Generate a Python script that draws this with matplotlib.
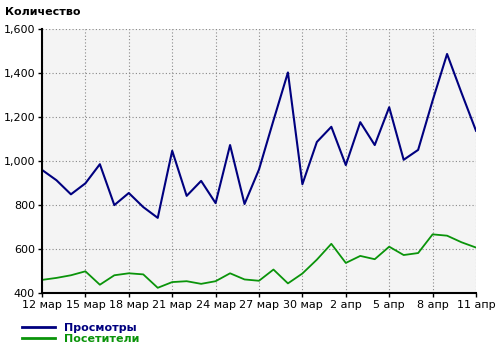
import numpy as np
import matplotlib.pyplot as plt
from matplotlib.ticker import FuncFormatter
from matplotlib.lines import Line2D

# dates: 12 мар .. 11 апр
days = [f"{d} мар" for d in range(12, 32)] + [f"{d} апр" for d in range(1, 12)]
views = [960, 913, 849, 899, 986, 800, 855, 791, 742, 1047,
         842, 910, 809, 1073, 805, 962, 1185, 1403, 895, 1087,
         1156, 982, 1177, 1073, 1245, 1006, 1051, 1275, 1487, 1310, 1138]
visitors = [460, 469, 481, 499, 438, 481, 490, 485, 424, 450,
            454, 442, 454, 490, 462, 456, 507, 444, 489, 552,
            624, 537, 569, 554, 611, 573, 582, 667, 661, 631, 607]

x = np.arange(len(days))
blue = "#00007f"
green = "#0a940a"

fig = plt.figure(figsize=(5, 3.51), dpi=100)
ax = fig.add_axes([0.084, 0.165, 0.868, 0.752])
ax.set_facecolor("#f4f4f4")

ax.plot(x, views, color=blue, lw=1.5)
ax.plot(x, visitors, color=green, lw=1.3)

ax.set_xlim(0, len(days) - 1)
ax.set_ylim(400, 1600)
ax.set_yticks(range(400, 1601, 200))
ax.yaxis.set_major_formatter(FuncFormatter(lambda v, p: f"{int(v):,}"))
ax.set_xticks(x[::3])
ax.set_xticklabels(days[::3])

ax.grid(True, color="#888888", linestyle=(0, (1, 2)), lw=0.8)
for s in ["top", "right"]:
    ax.spines[s].set_visible(False)
ax.spines["left"].set_linewidth(1.5)
ax.spines["bottom"].set_linewidth(1.5)
ax.tick_params(labelsize=8, length=3, width=1, pad=2)

fig.text(0.01, 0.965, "Количество", fontsize=8, fontweight="bold", va="center")

leg = fig.legend([Line2D([], [], color=blue, lw=2), Line2D([], [], color=green, lw=2)],
                 ["Просмотры", "Посетители"], loc="lower left",
                 bbox_to_anchor=(0.03, 0.0), frameon=False, fontsize=8,
                 handlelength=3, labelspacing=0.1, borderaxespad=0.2,
                 prop={"weight": "bold", "size": 8})
for t, c in zip(leg.get_texts(), [blue, green]):
    t.set_color(c)

fig.savefig("out.png", dpi=100)
